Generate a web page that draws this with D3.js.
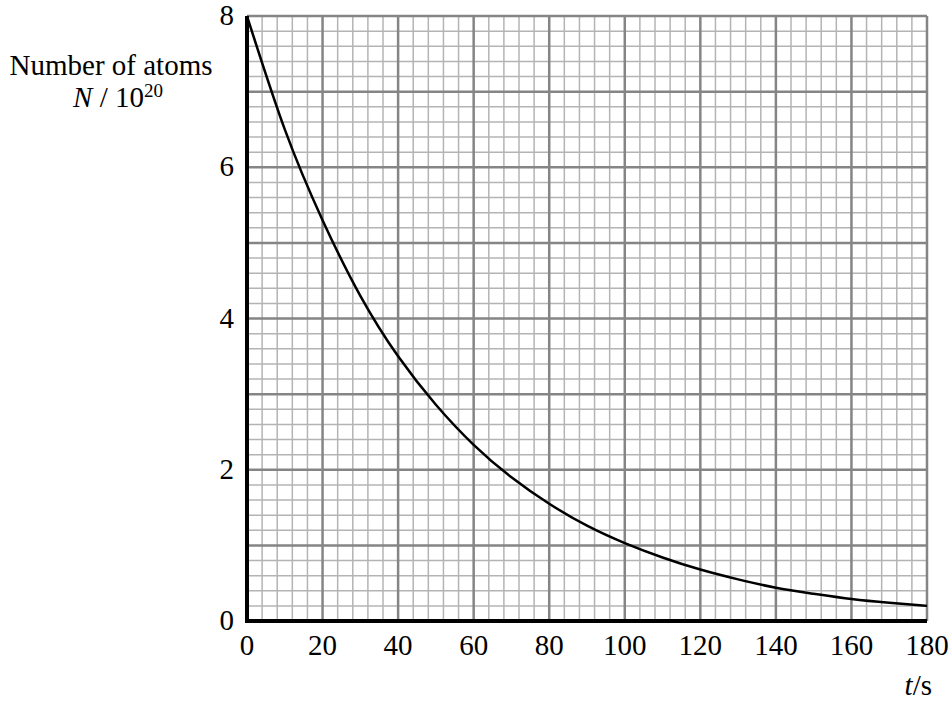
<!DOCTYPE html>
<html>
<head>
<meta charset="utf-8">
<script src="https://d3js.org/d3.v7.min.js"></script>
<style>
  body { margin: 0; background: #fff; }
  text { font-family: "Liberation Serif", "Times New Roman", serif; fill: #000; }
</style>
</head>
<body>
<div id="chart"></div>
<script>
// values
var times = [0, 10, 20, 30, 40, 50, 60, 70, 80, 90, 100, 110, 120, 130, 140, 150, 160, 170, 180];
var atoms = [8, 6.5, 5.3, 4.3, 3.5, 2.86, 2.33, 1.9, 1.55, 1.26, 1.03, 0.84, 0.68, 0.55, 0.44, 0.36, 0.29, 0.24, 0.2];
var xTicks = [0, 20, 40, 60, 80, 100, 120, 140, 160, 180];
var yTicks = [0, 2, 4, 6, 8];

var width = 952, height = 702;
var margin = {left: 247, right: 25, top: 16, bottom: 81};

var svg = d3.select("#chart").append("svg")
  .attr("width", width)
  .attr("height", height);

var x = d3.scaleLinear().domain([0, 180]).range([margin.left, width - margin.right]);
var y = d3.scaleLinear().domain([0, 8]).range([height - margin.bottom, margin.top]);

// grid: minor every 4 s / 0.2, major every 20 s / 1
var grid = svg.append("g");
d3.range(0, 181, 4).forEach(function(v) {
  if (v % 20 == 0) return;
  grid.append("line")
    .attr("x1", x(v)).attr("x2", x(v))
    .attr("y1", y(0)).attr("y2", y(8))
    .attr("stroke", "#b4b4b4").attr("stroke-width", 1.5);
});
d3.range(0, 40).forEach(function(i) {
  if (i % 5 == 0) return;
  grid.append("line")
    .attr("x1", x(0)).attr("x2", x(180))
    .attr("y1", y(i * 0.2)).attr("y2", y(i * 0.2))
    .attr("stroke", "#b4b4b4").attr("stroke-width", 1.5);
});
d3.range(20, 181, 20).forEach(function(v) {
  grid.append("line")
    .attr("x1", x(v)).attr("x2", x(v))
    .attr("y1", y(0)).attr("y2", y(8))
    .attr("stroke", "#858585").attr("stroke-width", 2.5);
});
d3.range(1, 9).forEach(function(v) {
  grid.append("line")
    .attr("x1", x(0)).attr("x2", x(180))
    .attr("y1", y(v)).attr("y2", y(v))
    .attr("stroke", "#858585").attr("stroke-width", 2.5);
});

// axes (thick black)
svg.append("line")
  .attr("x1", x(0)).attr("x2", x(0))
  .attr("y1", y(0) + 1.5).attr("y2", y(8))
  .attr("stroke", "#000").attr("stroke-width", 4);
svg.append("line")
  .attr("x1", x(0) - 2).attr("x2", x(180))
  .attr("y1", y(0)).attr("y2", y(0))
  .attr("stroke", "#000").attr("stroke-width", 4);

// curve
var line = d3.line()
  .x(function(d, i) { return x(times[i]); })
  .y(function(d) { return y(d); })
  .curve(d3.curveNatural);
svg.append("path")
  .attr("d", line(atoms))
  .attr("fill", "none")
  .attr("stroke", "#000")
  .attr("stroke-width", 2.5);

// tick labels
svg.selectAll(".xlab").data(xTicks).enter().append("text")
  .attr("x", function(d) { return x(d); })
  .attr("y", y(0) + 34)
  .attr("text-anchor", "middle")
  .style("font-size", "29px")
  .text(function(d) { return d; });
svg.selectAll(".ylab").data(yTicks).enter().append("text")
  .attr("x", x(0) - 13)
  .attr("y", function(d) { return y(d) + 9; })
  .attr("text-anchor", "end")
  .style("font-size", "29px")
  .text(function(d) { return d; });

// axis titles
svg.append("text")
  .attr("x", 111).attr("y", 75)
  .attr("text-anchor", "middle")
  .style("font-size", "29px")
  .text("Number of atoms");
var nt = svg.append("text")
  .attr("x", 118).attr("y", 107)
  .attr("text-anchor", "middle")
  .style("font-size", "29px");
nt.append("tspan").style("font-style", "italic").text("N");
nt.append("tspan").text(" / 10");
nt.append("tspan").attr("dy", -10).style("font-size", "19px").text("20");

var ts = svg.append("text")
  .attr("x", 932).attr("y", 695)
  .attr("text-anchor", "end")
  .style("font-size", "29px");
ts.append("tspan").style("font-style", "italic").text("t");
ts.append("tspan").text("/s");
</script>
</body>
</html>
